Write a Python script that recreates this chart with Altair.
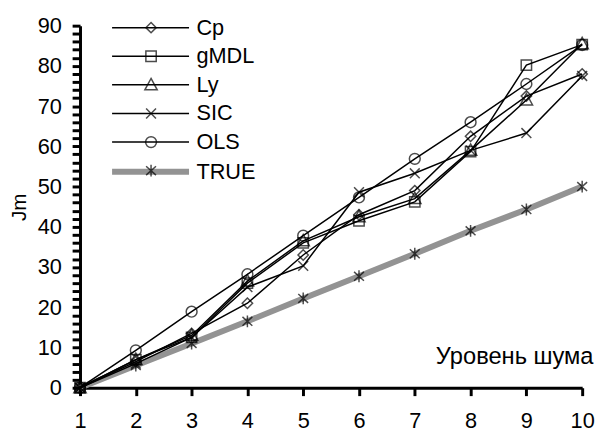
import altair as alt
import pandas as pd

x_levels = [1, 2, 3, 4, 5, 6, 7, 8, 9, 10]
series_names = ["Cp", "gMDL", "Ly", "SIC", "OLS", "TRUE"]
cp_vals = [0, 6.5, 13.5, 21, 33, 43, 49, 62.5, 72.5, 78]
gmdl_vals = [0, 7, 12.5, 26, 36, 41.5, 46.2, 58.7, 80.2, 85.3]
ly_vals = [0, 7, 13, 26.5, 36.5, 42.5, 47, 59, 71.5, 85.5]
sic_vals = [0, 6, 12.5, 25, 30.3, 48.6, 53.3, 59, 63.3, 77.5]
ols_vals = [0, 9.3, 18.9, 28.2, 37.8, 47.3, 56.9, 66, 75.5, 85.2]
true_vals = [0, 5.5, 11, 16.5, 22.2, 27.7, 33.3, 39, 44.3, 50]
y_tick_values = list(range(0, 91, 2))

values_by_series = {
    "TRUE": true_vals,
    "Cp": cp_vals,
    "gMDL": gmdl_vals,
    "Ly": ly_vals,
    "SIC": sic_vals,
    "OLS": ols_vals,
}

rows = []
for name, vals in values_by_series.items():
    for xv, yv in zip(x_levels, vals):
        rows.append({"x": xv, "value": yv, "series": name, "marker": name + " "})
df = pd.DataFrame(rows)
marker_domain = [n + " " for n in series_names]

FONT = "Liberation Sans"
FS = 22

# custom marker paths (unit = sqrt(size)/2 px)
marker_paths = [
    "M0,-1.05L1.05,0L0,1.05L-1.05,0Z",                       # diamond
    "M-1.05,-1.05H1.05V1.05H-1.05Z",                          # square
    "M0,-1.3L1.25,1H-1.25Z",                                  # triangle
    "M-1,-1L1,1M-1,1L1,-1",                                   # x
    "M-1.1,0A1.1,1.1,0,1,0,1.1,0A1.1,1.1,0,1,0,-1.1,0Z",      # circle
    "M-1,-0.9L1,0.9M-1,0.9L1,-0.9M0,-1.2V1.2",                # asterisk
]

x_enc = alt.X(
    "x:Q",
    scale=alt.Scale(domain=[1, 10], nice=False, zero=False),
    axis=alt.Axis(
        values=x_levels, format="d", grid=False, ticks=True, domain=True,
        domainColor="black", domainWidth=3,
        tickColor="black", tickWidth=3, tickSize=8,
        labelFont=FONT, labelFontSize=FS, labelColor="black",
        labelPadding=15, labelOverlap=False, labelFlush=False,
        title="Уровень шума", titleFont=FONT, titleFontSize=24,
        titleFontWeight="normal", titleColor="black",
        titleX=520, titleY=-25, titleAlign="right", titleBaseline="alphabetic",
    ),
)
y_enc = alt.Y(
    "value:Q",
    scale=alt.Scale(domain=[0, 90], nice=False),
    axis=alt.Axis(
        values=y_tick_values, grid=False, ticks=True, domain=True,
        labelExpr="datum.value % 10 === 0 ? datum.label : ''",
        domainColor="black", domainWidth=3,
        tickColor="black", tickWidth=3, tickSize=8,
        labelFont=FONT, labelFontSize=FS, labelColor="black",
        labelPadding=11, labelOverlap=False,
        title="Jm", titleFont=FONT, titleFontSize=21,
        titleFontWeight="normal", titleColor="black",
        titleX=-61, titleY=183.5, titleAngle=270,
        titleAlign="center", titleBaseline="middle",
    ),
)

common_legend = dict(
    orient="none", legendX=61, legendY=-9, title=None, padding=0,
    symbolSize=100, labelOffset=35, rowPadding=7,
    labelFont=FONT, labelFontSize=FS, labelColor="black",
)

lines = alt.Chart(df).mark_line().encode(
    x=x_enc,
    y=y_enc,
    stroke=alt.Stroke(
        "series:N",
        scale=alt.Scale(domain=series_names,
                        range=["black"] * 5 + ["#939393"]),
        legend=alt.Legend(
            symbolType="M-7.9,0H7.7",
            symbolStrokeWidth={"expr": "datum.value === 'TRUE' ? 6 : 1.5"},
            zindex=1,
            **common_legend,
        ),
    ),
    strokeWidth=alt.condition("datum.series === 'TRUE'", alt.value(6), alt.value(1.5)),
)

points = alt.Chart(df).mark_point(filled=False, color="black", strokeWidth=1.5).encode(
    x=x_enc,
    y=y_enc,
    shape=alt.Shape(
        "marker:N",
        scale=alt.Scale(domain=marker_domain, range=marker_paths),
        legend=alt.Legend(
            symbolStrokeColor="black", symbolStrokeWidth=1.5,
            symbolFillColor="transparent",
            labelOpacity=0, zindex=2,
            **common_legend,
        ),
    ),
    size=alt.value(100),
)

chart = (
    alt.layer(lines, points)
    .properties(
        width=509, height=367,
        padding={"left": 73, "top": 15, "right": 13, "bottom": 44},
        autosize=alt.AutoSizeParams(type="none"),
        background="white",
    )
    .configure_view(stroke=None)
)

chart.save("out.html", embed_options={"renderer": "svg", "actions": False})
